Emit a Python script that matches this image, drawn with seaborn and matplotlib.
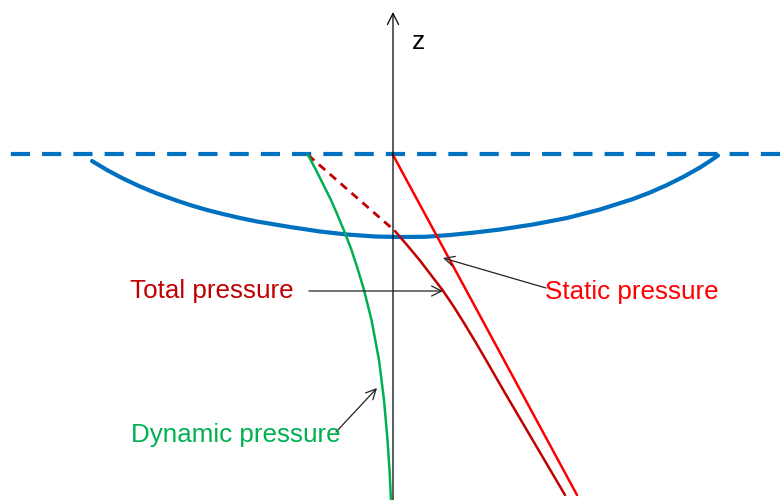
import matplotlib
matplotlib.use("Agg")
import matplotlib.pyplot as plt
import pandas as pd
import numpy as np
import seaborn as sb

# schematic, in pixel units (y grows downward)
surface_x = [0, 782]
surface_z = [154, 154]

bowl_x = [92, 107, 123, 140, 157, 175, 190, 207, 223, 240, 257, 290, 320, 347, 375, 400,
          425, 450, 475, 500, 533, 567, 600, 633, 650, 667, 684, 700, 710, 718]
bowl_z = [161, 170, 178.5, 186.5, 193.5, 200, 205, 210, 214, 218, 221.5, 227, 231.5, 234.5, 236.5, 237,
          236.8, 235, 232.5, 229.5, 224.5, 218, 209.5, 199, 192.5, 185, 176.5, 167.5, 161, 155.5]

static_x = [393, 577]
static_z = [155, 495]

total_dash_x = [308, 395]
total_dash_z = [155, 231]
total_x = [395, 407, 419.5, 431, 442.5, 454, 464, 475.5, 486, 505, 525, 545, 565]
total_z = [231, 245, 260, 275, 290, 307, 323, 342, 360, 393, 427, 461, 495]

dynamic_x = [308, 316, 323.5, 331, 337.5, 345, 351.5, 358, 364, 371.5, 379, 384, 387.5, 389.5, 391]
dynamic_z = [155, 170, 185, 200, 215, 233, 250, 270, 290, 320, 360, 400, 440, 470, 500]

labels = ["Total pressure", "Static pressure", "Dynamic pressure"]
label_pos = [(130, 298), (545, 299), (131, 442)]
arrow_tail = [(309, 291), (546, 288), (336, 432)]
arrow_tip = [(443, 291), (443, 258), (377, 388)]
label_colors = ["#C00000", "#FF0000", "#00B050"]

sb.set_theme(style="white")
plt.rcParams['font.family'] = ['Liberation Sans', 'DejaVu Sans']

fig = plt.figure(figsize=(7.82, 5.0), dpi=100)
ax = fig.add_axes([0, 0, 1, 1])

sb.lineplot(x=surface_x, y=surface_z, color='#0070C0', lw=3.0,
            linestyle=(4.9, (4.6, 2.9)), ax=ax)
sb.lineplot(x=bowl_x, y=bowl_z, color='#0070C0', lw=3.0, sort=False,
            solid_joinstyle='round', ax=ax)
sb.lineplot(x=static_x, y=static_z, color='#FF0000', lw=1.8, sort=False, ax=ax)
sb.lineplot(x=total_dash_x, y=total_dash_z, color='#C00000', lw=2.0,
            linestyle=(0, (3.0, 2.2)), sort=False, ax=ax)
sb.lineplot(x=total_x, y=total_z, color='#C00000', lw=1.8, sort=False,
            solid_joinstyle='round', ax=ax)
sb.lineplot(x=dynamic_x, y=dynamic_z, color='#00B050', lw=1.8, sort=False,
            solid_joinstyle='round', ax=ax)

# z axis
ax.annotate('', xy=(393, 12), xytext=(393, 500),
            arrowprops=dict(arrowstyle='->', lw=0.9, color='black', mutation_scale=20,
                            shrinkA=0, shrinkB=0))
ax.text(412, 49, 'z', fontsize=19, color='black', va='baseline', ha='left')

for lab, pos, tail, tip, c in zip(labels, label_pos, arrow_tail, arrow_tip, label_colors):
    ax.annotate('', xy=tip, xytext=tail,
                arrowprops=dict(arrowstyle='->', lw=0.9, color='#222222', mutation_scale=18,
                                shrinkA=0, shrinkB=0))
    ax.text(pos[0], pos[1], lab, fontsize=18.7, color=c, va='baseline', ha='left')

ax.set_xlim(0, 782)
ax.set_ylim(500, 0)
ax.axis('off')

plt.savefig('out.png', dpi=100)
